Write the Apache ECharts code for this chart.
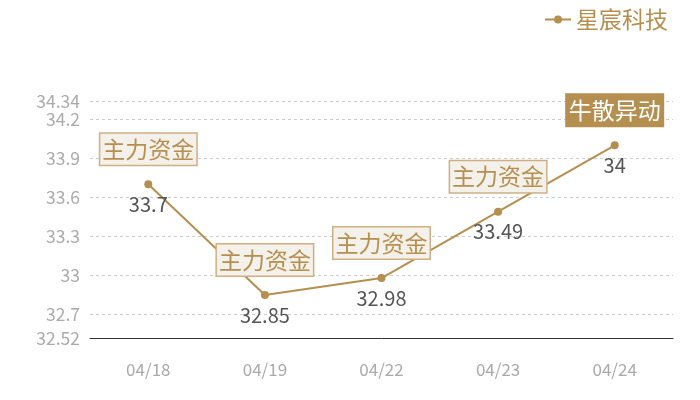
<!DOCTYPE html>
<html><head><meta charset="utf-8">
<script src="https://cdn.jsdelivr.net/npm/echarts@6/dist/echarts.min.js"></script>
<style>html,body{margin:0;padding:0;background:#fff}#c{width:700px;height:400px}</style>
</head><body><div id="c"></div>
<script>
const categories = ['04/18','04/19','04/22','04/23','04/24'];
const values = [33.7, 32.85, 32.98, 33.49, 34];
const seriesName = '星宸科技';
const markLabels = ['主力资金','主力资金','主力资金','主力资金','牛散异动'];
const yMin = 32.52, yMax = 34.34;

const gold = '#b58f4f';
const font = 'Noto Sans CJK SC';
const markData = categories.map((c, i) => {
  const hot = markLabels[i] === '牛散异动';
  return {
    coord: [c, values[i]],
    value: markLabels[i],
    label: hot ? {backgroundColor: gold, color: '#fff', borderColor: gold} : {}
  };
});

const chart = echarts.init(document.getElementById('c'));
chart.setOption({
  animation: false,
  textStyle: {fontFamily: font},
  legend: {
    right: 27, top: 3, itemWidth: 26, itemHeight: 10, itemGap: 6,
    textStyle: {color: gold, fontSize: 23, fontFamily: font}
  },
  grid: {left: 90, right: 27, top: 101, bottom: 62},
  xAxis: {
    type: 'category', data: categories,
    axisLine: {lineStyle: {color: '#333'}},
    axisTick: {show: false},
    axisLabel: {color: '#aaa', fontSize: 17, margin: 23, fontFamily: font}
  },
  yAxis: {
    type: 'value', min: yMin, max: yMax,
    axisLine: {show: false}, axisTick: {show: false},
    axisLabel: {color: '#aaa', fontSize: 17.5, fontFamily: font, margin: 10},
    splitLine: {lineStyle: {color: '#ccc', type: [3, 3]}}
  },
  series: [{
    name: seriesName, type: 'line', data: values,
    symbol: 'circle', symbolSize: 8,
    itemStyle: {color: gold},
    lineStyle: {color: gold, width: 2},
    label: {show: true, position: 'bottom', distance: 6, color: '#555', fontSize: 20, fontFamily: font},
    markPoint: {
      symbol: 'circle', symbolSize: 0,
      label: {
        show: true, position: 'inside', offset: [0, -35],
        formatter: p => p.value,
        color: gold, fontSize: 23, fontFamily: font,
        backgroundColor: '#f4f0ea', borderColor: '#cfb085', borderWidth: 1.5,
        padding: [4, 2, 4, 2]
      },
      data: markData
    }
  }]
});
</script></body></html>
